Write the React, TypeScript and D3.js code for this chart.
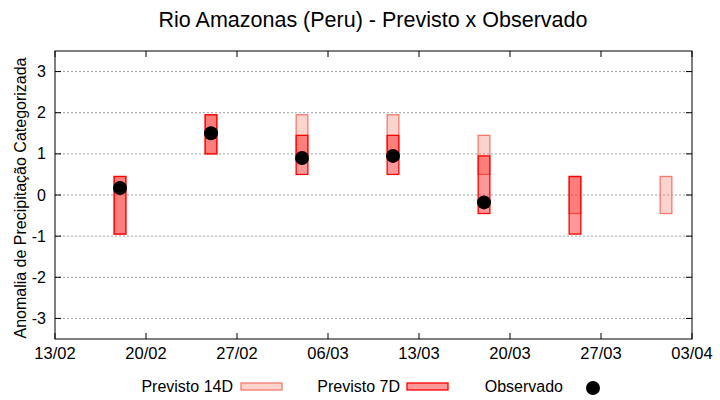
import React from "react";
import * as d3 from "d3";

const dates = ["2023-02-18", "2023-02-25", "2023-03-04", "2023-03-11", "2023-03-18", "2023-03-25", "2023-04-01"];
const prev14Low: (number | null)[] = [-0.95, 1.0, 0.95, 0.95, 0.5, -0.45, -0.45];
const prev14High: (number | null)[] = [0.45, 1.95, 1.95, 1.95, 1.45, 0.45, 0.45];
const prev7Low: (number | null)[] = [-0.95, 1.0, 0.5, 0.5, -0.45, -0.95, null];
const prev7High: (number | null)[] = [0.45, 1.95, 1.45, 1.45, 0.95, 0.45, null];
const observed: (number | null)[] = [0.17, 1.5, 0.9, 0.95, -0.18, null, null];
const xTickDates = ["2023-02-13", "2023-02-20", "2023-02-27", "2023-03-06", "2023-03-13", "2023-03-20", "2023-03-27", "2023-04-03"];
const yTicks = [-3, -2, -1, 0, 1, 2, 3];

const W = 720, H = 400;
const L = 55, R = 692, T = 51, B = 339;
const FONT = "'Liberation Sans', Arial, sans-serif";
const DAY = 86400000;

export default function App() {
  const parse = (s: string) => new Date(s + "T00:00:00Z");
  const x = d3.scaleUtc().domain([parse("2023-02-13"), parse("2023-04-03")]).range([L, R]);
  const y = d3.scaleLinear().domain([-3.5, 3.5]).range([B, T]);
  const fmt = d3.utcFormat("%d/%m");
  const bw = x(new Date(parse("2023-02-13").getTime() + 0.9 * DAY)) - x(parse("2023-02-13"));

  const fill14 = "rgba(250,128,114,0.35)";
  const stroke14 = "#f47a6e";
  const fill7 = "rgba(255,0,0,0.4)";
  const stroke7 = "#ff0000";

  return (
    <svg width={W} height={H} style={{ display: "block", position: "absolute", left: 0, top: 0 }} fontFamily={FONT}>
      <rect x={0} y={0} width={W} height={H} fill="#fff" />
      <text x={373} y={27} textAnchor="middle" fontSize={21.5}>Rio Amazonas (Peru) - Previsto x Observado</text>
      {/* grid */}
      {yTicks.map((t) => (
        <g key={t}>
          <line x1={L} x2={R} y1={y(t)} y2={y(t)} stroke="#a0a0a0" strokeWidth={1} strokeDasharray="2,2" />
          <line x1={L} x2={L + 6} y1={y(t)} y2={y(t)} stroke="#000" />
          <line x1={R - 6} x2={R} y1={y(t)} y2={y(t)} stroke="#000" />
          <text x={L - 9} y={y(t) + 5.5} textAnchor="end" fontSize={16}>{t}</text>
        </g>
      ))}
      {xTickDates.map((d) => {
        const px = x(parse(d));
        return (
          <g key={d}>
            <line x1={px} x2={px} y1={B} y2={B - 6} stroke="#000" />
            <line x1={px} x2={px} y1={T} y2={T + 6} stroke="#000" />
            <text x={px} y={B + 20} textAnchor="middle" fontSize={16.5}>{fmt(parse(d))}</text>
          </g>
        );
      })}
      {/* 14D bars */}
      {dates.map((d, i) => {
        const lo = prev14Low[i], hi = prev14High[i];
        if (lo == null || hi == null) return null;
        const cx = x(parse(d));
        return <rect key={"a" + i} x={cx - bw / 2} y={y(hi)} width={bw} height={y(lo) - y(hi)} fill={fill14} stroke={stroke14} strokeWidth={1.3} />;
      })}
      {/* 7D bars */}
      {dates.map((d, i) => {
        const lo = prev7Low[i], hi = prev7High[i];
        if (lo == null || hi == null) return null;
        const cx = x(parse(d));
        return <rect key={"b" + i} x={cx - bw / 2} y={y(hi)} width={bw} height={y(lo) - y(hi)} fill={fill7} stroke={stroke7} strokeWidth={1.3} />;
      })}
      {/* observed */}
      {dates.map((d, i) => {
        const v = observed[i];
        if (v == null) return null;
        return <circle key={"c" + i} cx={x(parse(d))} cy={y(v)} r={7} fill="#000" />;
      })}
      {/* frame */}
      <rect x={L} y={T} width={R - L} height={B - T} fill="none" stroke="#000" strokeWidth={1} />
      {/* y label */}
      <text transform={`translate(26,${(T + B) / 2 + 3}) rotate(-90)`} textAnchor="middle" fontSize={16}>Anomalia de Precipitação Categorizada</text>
      {/* legend */}
      <text x={233} y={392} textAnchor="end" fontSize={16}>Previsto 14D</text>
      <rect x={241} y={383} width={41} height={7} fill={fill14} stroke={stroke14} strokeWidth={1.3} />
      <text x={400} y={392} textAnchor="end" fontSize={16}>Previsto 7D</text>
      <rect x={407} y={383} width={41} height={7} fill={fill7} stroke={stroke7} strokeWidth={1.3} />
      <text x={563} y={392} textAnchor="end" fontSize={16}>Observado</text>
      <circle cx={593} cy={388} r={7} fill="#000" />
    </svg>
  );
}
